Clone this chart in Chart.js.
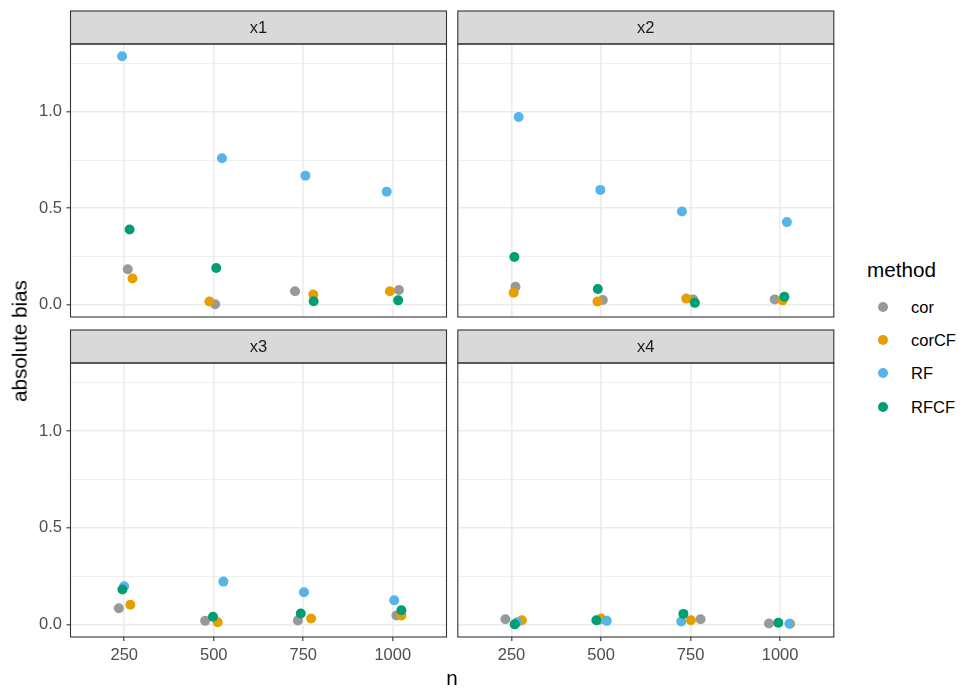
<!DOCTYPE html>
<html>
<head>
<meta charset="utf-8">
<script src="https://cdn.jsdelivr.net/npm/chart.js@4.4.1/dist/chart.umd.min.js"></script>
<style>
  html, body { margin: 0; padding: 0; background: #fff; }
  #plot { position: relative; width: 980px; height: 700px; overflow: hidden; font-family: "Liberation Sans", Arial, sans-serif; }
  #plot canvas { position: absolute; }
  .txt { position: absolute; white-space: nowrap; color: #000; }
  .key { position: absolute; width: 10px; height: 10px; border-radius: 50%; }
</style>
</head>
<body>
<div id="plot"></div>
<script>
// categories
const nLevels = [250, 500, 750, 1000];
const panelNames = ['x1', 'x2', 'x3', 'x4'];
const methods = ['cor', 'corCF', 'RF', 'RFCF'];
const yBreaks = [0, 0.5, 1.0];
const yMinorBreaks = [0.25, 0.75, 1.25];

// jittered n positions (one row per panel x1..x4)
const corN   = [[260, 504, 727, 1017], [261, 505, 757, 985], [235, 476, 735, 1010], [233, 495, 778, 969]];
const corCFN = [[273, 488, 778, 992], [256, 490, 738, 1007], [267, 511, 772, 1024], [279, 500, 751, 1028]];
const rfN    = [[244, 523, 756, 983], [270, 498, 726, 1019], [250, 527, 752, 1004], [266, 516, 724, 1026]];
const rfcfN  = [[265, 507, 779, 1015], [258, 491, 762, 1012], [245, 498, 743, 1024], [259, 487, 730, 995]];

// absolute bias (one row per panel x1..x4)
const corBias   = [[0.183, 0.002, 0.069, 0.076], [0.093, 0.024, 0.027, 0.027], [0.084, 0.019, 0.021, 0.047], [0.027, 0.025, 0.027, 0.005]];
const corCFBias = [[0.135, 0.016, 0.052, 0.069], [0.062, 0.016, 0.031, 0.022], [0.102, 0.012, 0.031, 0.047], [0.022, 0.031, 0.022, 0.004]];
const rfBias    = [[1.288, 0.759, 0.669, 0.586], [0.973, 0.595, 0.483, 0.428], [0.198, 0.222, 0.167, 0.126], [0.012, 0.019, 0.016, 0.004]];
const rfcfBias  = [[0.390, 0.190, 0.017, 0.022], [0.247, 0.081, 0.009, 0.041], [0.181, 0.040, 0.057, 0.074], [0.001, 0.022, 0.055, 0.009]];

const nSeries = [corN, corCFN, rfN, rfcfN];
const biasSeries = [corBias, corCFBias, rfBias, rfcfBias];
const palette = ['#999999', '#E69F00', '#56B4E9', '#009E73'];

const FONT = '"Liberation Sans", Arial, sans-serif';
const PANEL_W = 376, PANEL_H = 274, STRIP_H = 33;
const plot = document.getElementById('plot');

const panelFrame = {
    id: 'panelFrame',
    afterDraw(chart, args, opts) {
        const a = chart.chartArea;
        const ctx = chart.ctx;
        ctx.save();
        // strip
        ctx.fillStyle = '#D9D9D9';
        ctx.fillRect(a.left, a.top - STRIP_H, a.right - a.left, STRIP_H);
        ctx.strokeStyle = '#333333';
        ctx.lineWidth = 1.1;
        ctx.strokeRect(a.left, a.top - STRIP_H, a.right - a.left, STRIP_H);
        ctx.fillStyle = '#1A1A1A';
        ctx.font = '16.5px ' + FONT;
        ctx.textAlign = 'center';
        ctx.textBaseline = 'middle';
        ctx.fillText(opts.title, (a.left + a.right) / 2, a.top - STRIP_H / 2 + 1);
        // panel border
        ctx.strokeRect(a.left, a.top, a.right - a.left, a.bottom - a.top);
        ctx.restore();
    }
};

function noPad(s) {
    s.paddingLeft = 0;
    s.paddingRight = 0;
    s.paddingTop = 0;
    s.paddingBottom = 0;
}

panelNames.forEach((name, i) => {
    const col = i % 2, row = Math.floor(i / 2);
    const LW = col === 0 ? 70.5 : 5.8;
    const panelLeft = col === 0 ? 70.5 : 457.8;
    const stripTop = row === 0 ? 11 : 330;
    const BH = row === 1 ? 46 : 4;

    const cv = document.createElement('canvas');
    const W = Math.ceil(LW + PANEL_W) + 8;
    cv.width = W;
    cv.height = 1 + STRIP_H + PANEL_H + BH;
    cv.style.left = (panelLeft - LW) + 'px';
    cv.style.top = (stripTop - 1) + 'px';
    plot.appendChild(cv);

    const yTicks = yBreaks.concat(yMinorBreaks).sort((a, b) => a - b);
    const isMajor = v => yBreaks.some(b => Math.abs(b - v) < 1e-9);

    const chart = new Chart(cv, {
        type: 'scatter',
        data: {
            datasets: methods.map((m, k) => ({
                label: m,
                data: nSeries[k][i].map((n, j) => ({ x: n, y: biasSeries[k][i][j] })),
                backgroundColor: palette[k],
                borderColor: palette[k],
                borderWidth: 0,
                pointRadius: 5,
                pointHoverRadius: 5,
                order: methods.length - k
            }))
        },
        options: {
            responsive: false,
            animation: false,
            events: [],
            layout: { padding: { top: 1 + STRIP_H, right: W - LW - PANEL_W, left: 0, bottom: 0 } },
            plugins: {
                legend: { display: false },
                tooltip: { enabled: false },
                panelFrame: { title: name }
            },
            scales: {
                x: {
                    type: 'linear',
                    min: 100,
                    max: 1150,
                    afterBuildTicks: s => { s.ticks = nLevels.map(v => ({ value: v })); },
                    afterFit: s => { s.height = BH; noPad(s); },
                    ticks: {
                        display: row === 1,
                        color: '#4D4D4D',
                        font: { family: FONT, size: 16.5 },
                        padding: 5,
                        maxRotation: 0,
                        autoSkip: false,
                        callback: v => String(v)
                    },
                    grid: {
                        color: '#EBEBEB',
                        lineWidth: 1.6,
                        drawTicks: row === 1,
                        tickLength: 4,
                        tickColor: '#333333',
                        tickWidth: 1.1
                    },
                    border: { display: false }
                },
                y: {
                    type: 'linear',
                    min: -0.0644,
                    max: 1.352,
                    afterBuildTicks: s => { s.ticks = yTicks.map(v => ({ value: v })); },
                    afterFit: s => { s.width = LW; noPad(s); },
                    ticks: {
                        display: col === 0,
                        color: '#4D4D4D',
                        font: { family: FONT, size: 16.5 },
                        padding: 4.5,
                        autoSkip: false,
                        callback: v => isMajor(v) ? v.toFixed(1) : ''
                    },
                    grid: {
                        color: '#EBEBEB',
                        lineWidth: ctx => isMajor(ctx.tick.value) ? 1.6 : 0.8,
                        drawTicks: col === 0,
                        tickLength: 4,
                        tickColor: ctx => isMajor(ctx.tick.value) ? '#333333' : 'rgba(0,0,0,0)',
                        tickWidth: 1.1
                    },
                    border: { display: false }
                }
            }
        },
        plugins: [panelFrame]
    });

    // nudge the layout so the plot area lands exactly on the panel box
    const diff = (LW + PANEL_W) - chart.chartArea.right;
    if (Math.abs(diff) > 0.1) {
        chart.options.layout.padding.right = Math.max(0, chart.options.layout.padding.right - diff);
        chart.update();
    }
});

// axis titles
function addText(str, left, top, size, extra) {
    const d = document.createElement('div');
    d.className = 'txt';
    d.textContent = str;
    d.style.left = left + 'px';
    d.style.top = top + 'px';
    d.style.fontSize = size + 'px';
    d.style.lineHeight = '1';
    if (extra) Object.assign(d.style, extra);
    plot.appendChild(d);
    return d;
}

addText('n', 452, 678, 20.7, { transform: 'translate(-50%, -50%)' });
addText('absolute bias', 20, 340.5, 20.7, { transform: 'translate(-50%, -50%) rotate(-90deg)' });

// legend
addText('method', 867, 270, 20.7, { transform: 'translateY(-50%)' });
const keyY = [306.5, 339.5, 373, 406.5];
methods.forEach((m, k) => {
    const dot = document.createElement('div');
    dot.className = 'key';
    dot.style.background = palette[k];
    dot.style.left = (883 - 5) + 'px';
    dot.style.top = (keyY[k] - 5) + 'px';
    plot.appendChild(dot);
    addText(m, 911, keyY[k], 16.5, { transform: 'translateY(-50%)' });
});
</script>
</body>
</html>
